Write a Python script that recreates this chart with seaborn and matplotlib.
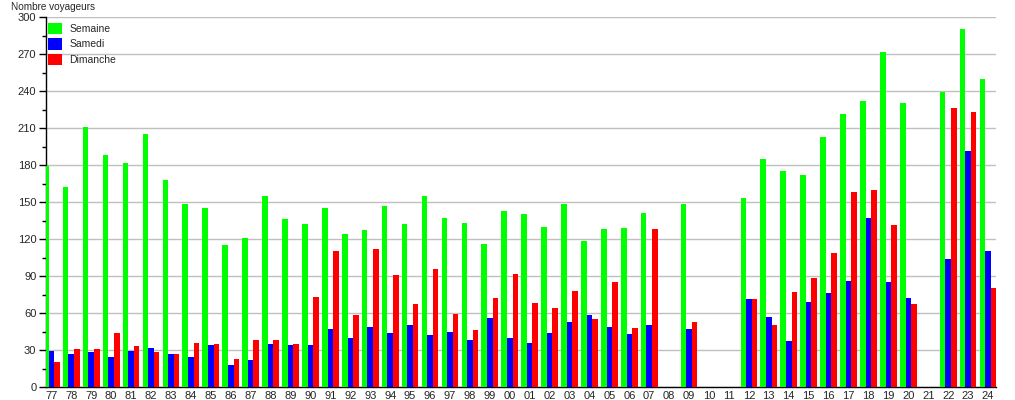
import numpy as np
import pandas as pd
import matplotlib
matplotlib.use("Agg")
import matplotlib.pyplot as plt
from matplotlib.ticker import MultipleLocator
import seaborn as sns

# Années (deux derniers chiffres), de 1977 à 2024
annees = ["77", "78", "79", "80", "81", "82", "83", "84", "85", "86", "87",
          "88", "89", "90", "91", "92", "93", "94", "95", "96", "97", "98",
          "99", "00", "01", "02", "03", "04", "05", "06", "07", "08", "09",
          "10", "11", "12", "13", "14", "15", "16", "17", "18", "19", "20",
          "21", "22", "23", "24"]

# Nombre de voyageurs (None = pas de donnée)
semaine = [179, 162, 211, 188, 182, 205, 168, 148, 145, 115, 121,
           155, 136, 132, 145, 124, 127, 147, 132, 155, 137, 133,
           116, 143, 140, 130, 148, 118, 128, 129, 141, None, 148,
           None, None, 153, 185, 175, 172, 203, 221, 232, 272, 230,
           None, 239, 290, 250]
samedi = [29, 27, 28, 24, 29, 32, 27, 24, 34, 18, 22,
          35, 34, 34, 47, 40, 49, 44, 50, 42, 45, 38,
          56, 40, 36, 44, 53, 58, 49, 43, 50, None, 47,
          None, None, 71, 57, 37, 69, 76, 86, 137, 85, 72,
          None, 104, 191, 110]
dimanche = [20, 31, 31, 44, 33, 28, 27, 36, 35, 23, 38,
            38, 35, 73, 110, 58, 112, 91, 67, 96, 59, 46,
            72, 92, 68, 64, 78, 55, 85, 48, 128, None, 53,
            None, None, 71, 50, 77, 88, 109, 158, 160, 131, 67,
            None, 226, 223, 80]

series = ["Semaine", "Samedi", "Dimanche"]
couleurs = ["#00ff00", "#0000ff", "#ff0000"]

df = pd.DataFrame({"annee": annees, "Semaine": semaine,
                   "Samedi": samedi, "Dimanche": dimanche})
df = df.melt(id_vars="annee", var_name="jour", value_name="voyageurs")
df["voyageurs"] = df["voyageurs"].astype(float)

sns.set_style("white")
plt.rcParams["font.family"] = ["Liberation Sans", "DejaVu Sans"]

fig = plt.figure(figsize=(10.15, 4), dpi=100)
ax = fig.add_axes([0.0453, 0.0325, 0.9360, 0.925])

sns.barplot(data=df, x="annee", y="voyageurs", hue="jour",
            order=annees, hue_order=series, palette=couleurs,
            width=0.84, gap=0, saturation=1, errorbar=None,
            linewidth=0, ax=ax, zorder=3)

ax.set_xlim(-0.27, 47.4)
ax.set_ylim(0, 300)
ax.yaxis.set_major_locator(MultipleLocator(30))
ax.yaxis.set_minor_locator(MultipleLocator(15))
ax.grid(axis="y", which="major", color="#c0c0c0", linewidth=1, zorder=0)
ax.grid(axis="x", visible=False)
ax.set_axisbelow(True)

for s in ["top", "right"]:
    ax.spines[s].set_visible(False)
for s in ["left", "bottom"]:
    ax.spines[s].set_color("black")
    ax.spines[s].set_linewidth(1)

ax.tick_params(axis="y", which="major", direction="out", length=5,
               width=1, color="black", labelsize=8, pad=2, left=True)
ax.tick_params(axis="y", which="minor", direction="out", length=3,
               width=1, color="black", left=True)
ax.tick_params(axis="x", length=0, labelsize=8, pad=3)
ax.set_xlabel("")
ax.set_ylabel("")

fig.text(0.011, 0.982, "Nombre voyageurs", fontsize=7.2, va="center", ha="left")

handles, labels = ax.get_legend_handles_labels()
ax.legend(handles, labels, loc="upper left", bbox_to_anchor=(0.0, 0.99),
          frameon=False, fontsize=7.5, handlelength=1.3, handleheight=1.3,
          labelspacing=0.4, handletextpad=0.75, borderaxespad=0.0,
          borderpad=0.2)

fig.savefig("out.png", dpi=100)
